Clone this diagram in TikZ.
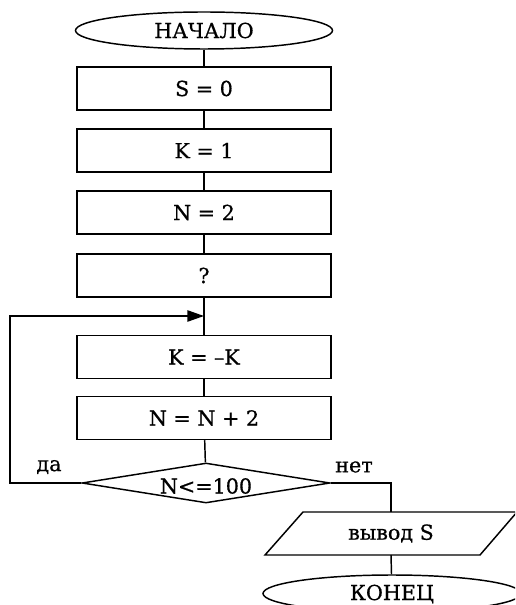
\documentclass[tikz,border=0pt]{standalone}
\usepackage{fontspec}
\setmainfont[FakeBold=0.6]{DejaVu Serif}
\usetikzlibrary{shapes.geometric,arrows.meta,calc}
\begin{document}
\begin{tikzpicture}[x=0.75pt,y=-0.75pt,
  every node/.style={font=\fontsize{15.5}{18}\selectfont},
  line/.style={line width=1.1pt},
  term/.style={ellipse,draw,line width=1.1pt,minimum width=192.75pt,minimum height=27.75pt,inner sep=0pt},
  proc/.style={rectangle,draw,line width=1.1pt,minimum width=190.5pt,minimum height=32.25pt,inner sep=0pt},
  cond/.style={diamond,draw,line width=1.1pt,aspect=6.2,minimum width=186pt,minimum height=30pt,inner sep=0pt},
  lbl/.style={inner sep=0pt}]
\useasboundingbox (0,0) rectangle (515,605);
\clip (0,0) rectangle (515,605);
\node[term] (start) at (204,30.5) {};
\node[lbl] at (204,30.5) {НАЧАЛО};
\node[proc] (s0) at (204,88.5) {S = 0};
\node[proc] (k1) at (204,150.5) {K = 1};
\node[proc] (n2) at (204,212.5) {N = 2};
\node[proc] (q) at (204,275.5) {?};
\node[proc] (kk) at (204,357) {K = –K};
\node[proc] (nn) at (204,418) {N = N + 2};
\node[cond] (c) at (206,483) {};
\node[lbl] at (206,486) {N<=100};
\node[lbl] (out) at (391,533.5) {вывод S};
\draw[line,line join=miter] ($(out)+(-88,-21.5)$) -- ($(out)+(126,-21.5)$) -- ($(out)+(89,21.5)$) -- ($(out)+(-126,21.5)$) -- cycle;
\coordinate (outtop) at ($(out)+(0,-21.5)$);
\coordinate (outbot) at ($(out)+(0,21.5)$);
\node[term,minimum width=193.5pt] (end) at (392,593.5) {};
\node[lbl] at (392,594) {КОНЕЦ};
\node[lbl] (da) at (49,467) {да};
\node[lbl] (net) at (354,467) {нет};
\coordinate (join) at (204,316);
\coordinate (lc) at (10,483);
\draw[line] (start) -- (s0);
\draw[line] (s0) -- (k1);
\draw[line] (k1) -- (n2);
\draw[line] (n2) -- (q);
\draw[line] (q) -- (kk);
\draw[line] (kk) -- (nn);
\draw[line] (nn) -- (c);
\draw[line,-{Triangle[length=12.5pt,width=8.5pt]}] (c.west) -- (lc) |- (join);
\draw[line] (c.east) -| (outtop);
\draw[line] (outbot) -- (end);
\end{tikzpicture}
\end{document}
